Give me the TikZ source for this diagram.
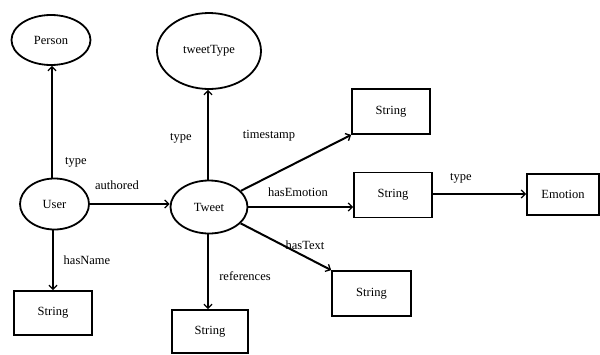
\documentclass[tikz,border=0pt]{standalone}
\usepackage{fontspec}
\setmainfont{Liberation Serif}
\usetikzlibrary{shapes.geometric,arrows.meta}
\begin{document}
\begin{tikzpicture}[x=1pt,y=-1pt,
  every node/.style={font=\fontsize{12.5}{14}\selectfont},
  ell/.style={ellipse,draw,line width=1.8pt,inner sep=0pt},
  box/.style={rectangle,draw,line width=1.8pt,inner sep=0pt},
  arr/.style={line width=2pt,-{Straight Barb[length=4pt,width=8pt,line width=1.3pt]}},
  lbl/.style={inner sep=0pt}]
\useasboundingbox (0,0) rectangle (600,354);
\node[ell,minimum width=79pt,minimum height=50pt] (person) at (51,40) {Person};
\node[ell,minimum width=104pt,minimum height=76pt] (ttype) at (209,51) {tweetType};
\node[ell,minimum width=69pt,minimum height=51pt] (user) at (54.5,204) {User};
\node[ell,minimum width=77pt,minimum height=53pt] (tweet) at (209,207) {Tweet};
\node[box,minimum width=78pt,minimum height=44pt] (sname) at (53,313) {String};
\node[box,minimum width=76pt,minimum height=43pt] (sref) at (210,331.5) {String};
\node[box,minimum width=78pt,minimum height=45pt] (sts) at (391,111.5) {String};
\node[box,minimum width=78pt,minimum height=45pt] (sem) at (393,195) {String};
\node[box,minimum width=72pt,minimum height=41pt] (emo) at (563,194.5) {Emotion};
\node[box,minimum width=79pt,minimum height=45pt] (stext) at (371.5,293.5) {String};

\coordinate (xa) at (52,0);
\coordinate (xb) at (208,0);
\coordinate (xc) at (53,0);
\coordinate (ya) at (0,204);
\coordinate (yb) at (0,207);
\coordinate (yc) at (0,194);

\draw[arr] (user.north -| xa) -- (person.south -| xa);
\draw[arr] (tweet.north -| xb) -- (ttype.south -| xb);
\draw[arr] (user.south -| xc) -- (sname.north -| xc);
\draw[arr] (tweet.south -| xb) -- (sref.north -| xb);
\draw[arr] (user.east |- ya) -- (tweet.west |- ya);
\draw[arr] (tweet.east |- yb) -- (sem.west |- yb);
\draw[arr] (sem.east |- yc) -- (emo.west |- yc);
\draw[arr] (tweet) -- (sts.south west);
\draw[arr] (tweet) -- (stext.north west);

\node[lbl] (l1) at (76,162) {type};
\node[lbl] (l2) at (181,138) {type};
\node[lbl] (l3) at (269,136) {timestamp};
\node[lbl] (l4) at (117,185) {authored};
\node[lbl] (l5) at (298,192) {hasEmotion};
\node[lbl] (l6) at (305,245) {hasText};
\node[lbl] (l7) at (87,260) {hasName};
\node[lbl] (l8) at (245,276) {references};
\node[lbl] (l9) at (461,178) {type};
\end{tikzpicture}
\end{document}
